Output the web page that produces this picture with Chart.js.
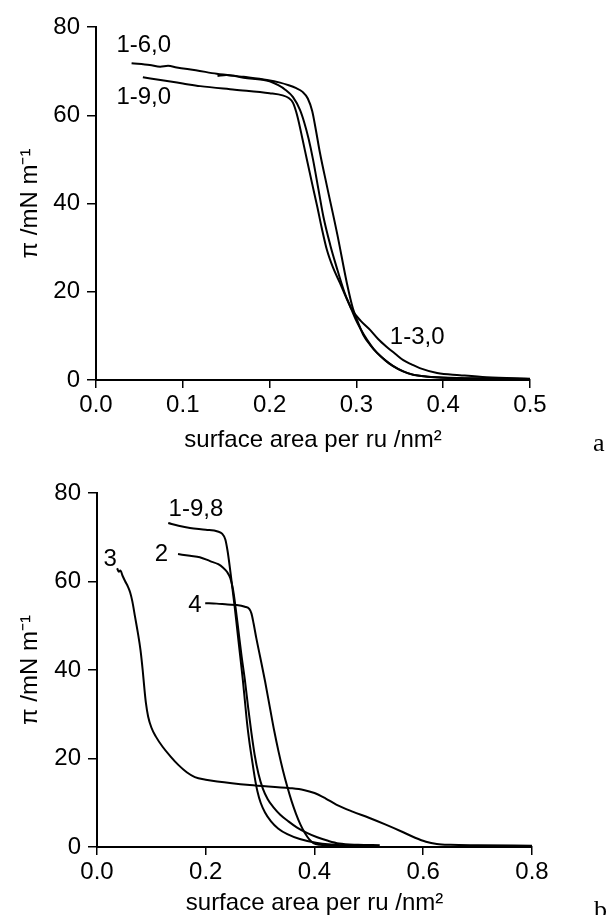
<!DOCTYPE html>
<html><head><meta charset="utf-8">
<script src="https://cdn.jsdelivr.net/npm/chart.js@4/dist/chart.umd.min.js"></script>
<style>
html,body{margin:0;padding:0;background:#fff;width:608px;height:915px;overflow:hidden;position:relative}
canvas{position:absolute;left:0}
#cA{top:0}
#cB{top:460px}
.tag{position:absolute;font-family:"Liberation Serif",serif;font-size:26px;line-height:26px;color:#000}
</style></head><body>
<canvas id="cA" width="608" height="460"></canvas>
<canvas id="cB" width="608" height="455"></canvas>
<div class="tag" style="left:593px;top:430px">a</div>
<div class="tag" style="left:594px;top:897px">b</div>
<script>
// ---------- panel a data (surface area per ru /nm^2 vs pi /mN m^-1) ----------
const a16X = [0.041,0.062,0.074,0.083,0.093,0.115,0.139,0.170,0.197,0.212,0.222,0.230,0.238,0.244,0.249,0.253,0.258,0.266,0.278,0.289,0.296,0.302,0.308,0.316,0.324,0.333,0.342,0.353,0.365,0.385,0.420,0.460,0.500];
const a16Y = [71.8,71.4,71.0,71.2,70.8,70.2,69.4,68.7,68.0,67.4,66.8,66.2,65.3,63.8,61.0,57.0,51.5,44.0,33.0,22.0,16.2,13.0,10.2,7.9,6.1,4.5,3.2,2.0,1.2,0.7,0.4,0.3,0.2];
const a13X = [0.140,0.150,0.170,0.200,0.210,0.218,0.227,0.235,0.240,0.245,0.250,0.256,0.262,0.270,0.277,0.286,0.293,0.299,0.305,0.312,0.320,0.329,0.338,0.348,0.360,0.375,0.395,0.430,0.470,0.500];
const a13Y = [68.9,69.1,68.5,67.7,66.8,65.8,64.1,61.2,58.3,54.6,50.0,43.5,37.0,30.5,25.7,20.0,16.6,13.8,11.5,9.2,7.0,5.2,3.7,2.5,1.5,0.9,0.6,0.4,0.3,0.2];
const a19X = [0.054,0.080,0.100,0.120,0.160,0.200,0.215,0.222,0.227,0.232,0.238,0.243,0.249,0.255,0.260,0.266,0.273,0.281,0.288,0.295,0.305,0.316,0.325,0.335,0.345,0.354,0.364,0.373,0.393,0.419,0.450,0.500];
const a19Y = [68.6,67.8,67.2,66.6,65.8,65.0,64.5,63.9,62.8,59.8,54.5,49.9,44.5,39.2,34.5,29.5,25.5,22.0,18.8,15.9,13.4,11.3,9.3,7.5,5.9,4.5,3.5,2.7,1.6,1.1,0.6,0.3];
const aXTicks = [0,0.1,0.2,0.3,0.4,0.5];
const aXTickLabels = ['0.0','0.1','0.2','0.3','0.4','0.5'];
const aLabelText = ['1-6,0','1-9,0','1-3,0'];
const aLabelX = [0.055,0.055,0.370];
const aLabelY = [75.9,64.1,9.7];

// ---------- panel b data ----------
const b198X = [0.131,0.150,0.171,0.200,0.222,0.230,0.236,0.240,0.244,0.248,0.253,0.258,0.263,0.268,0.272,0.276,0.280,0.285,0.290,0.295,0.301,0.309,0.320,0.333,0.350,0.373,0.405,0.450,0.500];
const b198Y = [73.2,72.6,72.1,71.7,71.3,70.8,69.5,67.0,63.5,59.5,54.5,49.0,43.5,38.0,33.0,28.0,24.0,19.8,15.8,12.6,10.0,7.8,5.8,4.2,2.9,1.8,0.9,0.4,0.3];
const b2X = [0.149,0.171,0.189,0.208,0.223,0.232,0.239,0.245,0.250,0.255,0.260,0.266,0.272,0.278,0.284,0.290,0.297,0.305,0.314,0.325,0.337,0.352,0.368,0.386,0.405,0.425,0.445,0.480,0.520];
const b2Y = [66.2,65.8,65.5,64.6,63.9,63.1,62.2,60.8,58.3,54.0,49.0,43.0,37.7,31.5,25.8,20.8,16.5,13.2,10.8,8.9,7.3,5.8,4.4,3.2,2.2,1.4,0.8,0.5,0.4];
const b4X = [0.199,0.220,0.240,0.257,0.272,0.280,0.284,0.288,0.293,0.300,0.309,0.318,0.326,0.334,0.342,0.350,0.358,0.366,0.374,0.382,0.390,0.398,0.410,0.440,0.480];
const b4Y = [55.1,55.0,54.8,54.7,54.3,53.8,52.8,50.5,47.2,43.0,37.5,31.5,26.2,21.5,17.3,13.6,10.3,7.5,5.1,3.2,1.8,0.9,0.5,0.3,0.2];
const b3X = [0.037,0.040,0.043,0.047,0.052,0.057,0.061,0.065,0.070,0.075,0.080,0.084,0.087,0.090,0.094,0.100,0.108,0.121,0.135,0.150,0.165,0.180,0.200,0.221,0.281,0.355,0.380,0.400,0.420,0.440,0.470,0.500,0.530,0.560,0.585,0.605,0.625,0.650,0.700,0.800];
const b3Y = [63.0,62.2,62.5,61.3,60.0,58.8,57.5,55.5,52.0,48.5,44.5,40.0,36.0,32.5,29.5,27.0,25.0,22.6,20.5,18.5,16.9,15.8,15.2,14.8,14.0,13.3,12.9,12.2,11.0,9.6,8.0,6.6,5.1,3.5,2.1,1.2,0.7,0.5,0.4,0.3];
const bXTicks = [0,0.2,0.4,0.6,0.8];
const bXTickLabels = ['0.0','0.2','0.4','0.6','0.8'];
const bLabelText = ['1-9,8','2','3','4'];
const bLabelX = [0.182,0.1186,0.024,0.180];
const bLabelY = [76.4,66.2,65.1,54.7];

const yTicks = [0,20,40,60,80];
const yTickLabels = ['0','20','40','60','80'];
const xTitle = 'surface area per ru /nm\u00B2';
const yTitle = '\u03C0 /mN m\u207B\u00B9';

// ---------- rendering ----------
const FONT = '"Liberation Sans", Arial, sans-serif';
const FS = 24;

const curveLabels = {
  id: 'curveLabels',
  afterDatasetsDraw(chart, args, o) {
    const {ctx} = chart; const xs = chart.scales.x, ys = chart.scales.y;
    ctx.save();
    ctx.font = FS + 'px ' + FONT; ctx.fillStyle = '#000';
    ctx.textAlign = 'center'; ctx.textBaseline = 'middle';
    o.text.forEach((t, i) => ctx.fillText(t, xs.getPixelForValue(o.x[i]), ys.getPixelForValue(o.y[i])));
    ctx.restore();
  }
};

function ds(xs, ys) {
  return {data: xs.map((x, i) => ({x, y: ys[i]})), borderColor: '#000', borderWidth: 2,
    pointRadius: 0, cubicInterpolationMode: 'monotone', fill: false};
}

function build(id, series, xMax, xTicks, xLabels, lay, labels) {
  new Chart(document.getElementById(id), {
    type: 'line',
    data: {datasets: series.map(s => ds(s[0], s[1]))},
    plugins: [curveLabels],
    options: {
      responsive: false, animation: false, devicePixelRatio: 1, events: [],
      layout: {padding: {top: lay.top, right: lay.right, left: 0, bottom: 0}},
      plugins: {legend: {display: false}, tooltip: {enabled: false}, curveLabels: labels},
      scales: {
        x: {
          type: 'linear', min: 0, max: xMax,
          afterBuildTicks: s => { s.ticks = xTicks.map(v => ({value: v})); },
          afterFit: s => { s.height = lay.xh; },
          border: {display: true, color: '#000', width: 2},
          grid: {display: true, drawOnChartArea: false, drawTicks: true, tickLength: 8, color: '#000', lineWidth: 1.5},
          ticks: {color: '#000', font: {family: FONT, size: FS}, padding: 3, autoSkip: false, maxRotation: 0,
                  callback: (v, i) => xLabels[i]},
          title: {display: true, text: xTitle, color: '#000', font: {family: FONT, size: FS, lineHeight: 1},
                  padding: {top: 0, bottom: lay.tb}}
        },
        y: {
          type: 'linear', min: 0, max: 80,
          afterBuildTicks: s => { s.ticks = yTicks.map(v => ({value: v})); },
          afterFit: s => { s.width = lay.yw; },
          border: {display: true, color: '#000', width: 2},
          grid: {display: true, drawOnChartArea: false, drawTicks: true, tickLength: 9, color: '#000', lineWidth: 1.5},
          ticks: {color: '#000', font: {family: FONT, size: FS}, padding: 7, autoSkip: false,
                  callback: (v, i) => yTickLabels[i]},
          title: {display: true, text: yTitle, color: '#000', font: {family: FONT, size: FS, lineHeight: 1},
                  padding: {top: 18, bottom: 0}}
        }
      }
    }
  });
}

build('cA', [[a16X, a16Y], [a13X, a13Y], [a19X, a19Y]], 0.5, aXTicks, aXTickLabels,
  {top: 27, right: 78, xh: 80, yw: 96, tb: 8},
  {text: aLabelText, x: aLabelX, y: aLabelY});
build('cB', [[b198X, b198Y], [b2X, b2Y], [b4X, b4Y], [b3X, b3Y]], 0.8, bXTicks, bXTickLabels,
  {top: 33, right: 76, xh: 68, yw: 97, tb: 0},
  {text: bLabelText, x: bLabelX, y: bLabelY});
</script>
</body></html>
